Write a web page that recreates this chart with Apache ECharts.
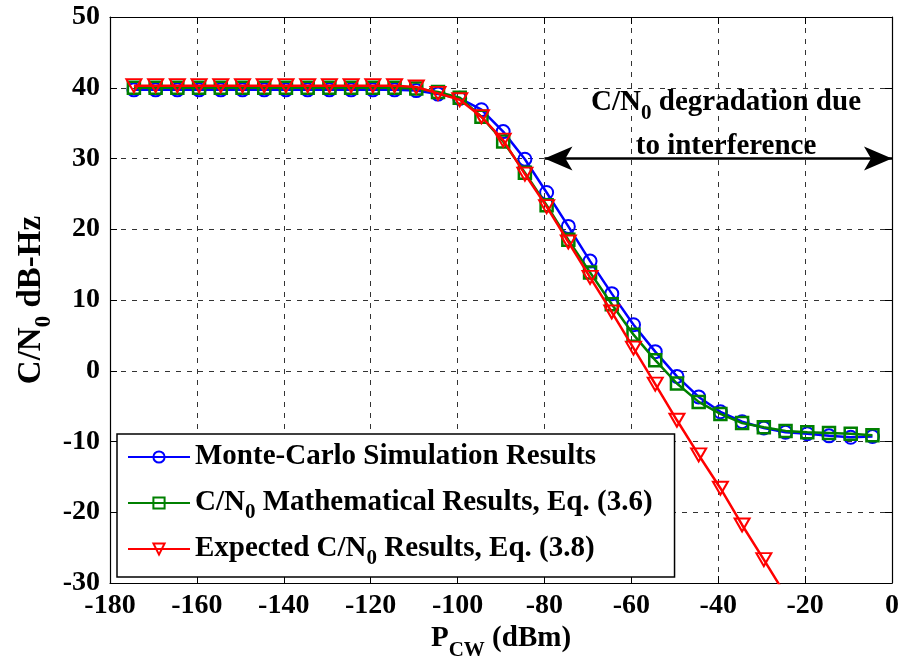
<!DOCTYPE html>
<html>
<head>
<meta charset="utf-8">
<script src="https://cdn.jsdelivr.net/npm/echarts@6/dist/echarts.min.js"></script>
<style>
  html, body { margin: 0; padding: 0; background: #fff; }
  #chart { width: 900px; height: 664px; }
</style>
</head>
<body>
<div id="chart"></div>
<script>
// ---- data ----
var pcw = [-174.5, -169.5, -164.5, -159.5, -154.5, -149.5, -144.5, -139.5, -134.5, -129.5,
           -124.5, -119.5, -114.5, -109.5, -104.5, -99.5, -94.5, -89.5, -84.5, -79.5,
           -74.5, -69.5, -64.5, -59.5, -54.5, -49.5, -44.5, -39.5, -34.5, -29.5,
           -24.5, -19.5, -14.5, -9.5, -4.5];
var monteCarlo = [39.7, 39.7, 39.7, 39.7, 39.7, 39.7, 39.7, 39.7, 39.7, 39.7,
                  39.7, 39.7, 39.7, 39.6, 39.1, 38.5, 36.9, 33.8, 29.9, 25.2,
                  20.4, 15.5, 10.9, 6.5, 2.7, -0.8, -3.7, -5.8, -7.2, -8.1,
                  -8.7, -8.9, -9.2, -9.4, -9.3];
var mathematical = [40.0, 40.0, 40.0, 40.0, 40.0, 40.0, 40.0, 40.0, 40.0, 40.0,
                    40.0, 40.0, 40.0, 39.9, 39.4, 38.6, 35.9, 32.4, 28.0, 23.4,
                    18.5, 13.9, 9.4, 5.1, 1.5, -1.8, -4.4, -6.1, -7.4, -8.0,
                    -8.5, -8.7, -8.8, -8.9, -9.1];
var expected = [40.3, 40.3, 40.3, 40.3, 40.3, 40.3, 40.3, 40.3, 40.3, 40.3,
                40.3, 40.3, 40.3, 40.1, 39.2, 38.3, 35.9, 32.6, 27.8, 23.2,
                18.2, 13.2, 8.3, 3.2, -1.9, -7.0, -11.9, -16.6, -21.8, -26.7,
                -31.7];
var seriesNames = ['Monte-Carlo Simulation Results',
                   'C/N0 Mathematical Results, Eq. (3.6)',
                   'Expected C/N0 Results, Eq. (3.8)'];
var xTicks = [-180, -160, -140, -120, -100, -80, -60, -40, -20, 0];
var yTicks = [-30, -20, -10, 0, 10, 20, 30, 40, 50];
var arrowStart = [-80, 30];
var arrowEnd = [0, 30];
var noteAnchor = [-38.2, 34.8];
var noteLines = ['C/N{sub|0} degradation due', 'to interference'];

function pairs(xs, ys) {
  var out = [];
  for (var i = 0; i < ys.length; i++) out.push([xs[i], ys[i]]);
  return out;
}

var FONT = '"Liberation Serif", "Times New Roman", serif';

var chart = echarts.init(document.getElementById('chart'), null, { renderer: 'canvas' });

var axisCommon = {
  type: 'value',
  axisLine: { show: true, onZero: false, lineStyle: { color: '#000', width: 1.2 } },
  axisTick: { show: true, inside: true, length: 7, lineStyle: { color: '#000', width: 1 } }
};

var option = {
  animation: false,
  backgroundColor: '#fff',
  grid: { left: 110, right: 8, top: 17, bottom: 81, containLabel: false, outerBoundsMode: 'none' },
  xAxis: [
    Object.assign({}, axisCommon, {
      position: 'bottom',
      min: xTicks[0], max: xTicks[xTicks.length - 1], interval: 20,
      axisLabel: { color: '#000', fontFamily: FONT, fontWeight: 'bold', fontSize: 28, margin: 9 },
      splitLine: { show: true, lineStyle: { color: '#333', type: [5, 6], width: 1 } },
      name: 'P{sub|CW} (dBm)',
      nameLocation: 'middle',
      nameMoveOverlap: false,
      nameGap: 34,
      nameTextStyle: {
        color: '#000', fontFamily: FONT, fontWeight: 'bold', fontSize: 29, lineHeight: 44,
        rich: {
          sub: { fontFamily: FONT, fontWeight: 'bold', fontSize: 21, color: '#000',
                 verticalAlign: 'bottom', lineHeight: 44 }
        }
      }
    }),
    Object.assign({}, axisCommon, {
      position: 'top',
      min: xTicks[0], max: xTicks[xTicks.length - 1], interval: 20,
      axisLabel: { show: false },
      splitLine: { show: false }
    })
  ],
  yAxis: [
    Object.assign({}, axisCommon, {
      position: 'left',
      min: yTicks[0], max: yTicks[yTicks.length - 1], interval: 10,
      axisLabel: { color: '#000', fontFamily: FONT, fontWeight: 'bold', fontSize: 28, margin: 10 },
      splitLine: { show: true, lineStyle: { color: '#333', type: [5, 6], width: 1 } },
      name: 'C/N{sub|0} dB-Hz',
      nameLocation: 'middle',
      nameMoveOverlap: false,
      nameGap: 54,
      nameTextStyle: {
        color: '#000', fontFamily: FONT, fontWeight: 'bold', fontSize: 33, lineHeight: 50,
        rich: {
          sub: { fontFamily: FONT, fontWeight: 'bold', fontSize: 23, color: '#000',
                 verticalAlign: 'bottom', lineHeight: 50 }
        }
      }
    }),
    Object.assign({}, axisCommon, {
      position: 'right',
      min: yTicks[0], max: yTicks[yTicks.length - 1], interval: 10,
      axisLabel: { show: false },
      splitLine: { show: false }
    })
  ],
  legend: {
    orient: 'vertical',
    left: 117, top: 434,
    backgroundColor: '#fff',
    borderColor: '#000',
    borderWidth: 1.5,
    borderRadius: 0,
    padding: [3, 22, 8, 10],
    itemGap: 6,
    itemWidth: 62,
    itemHeight: 14,
    data: seriesNames,
    formatter: function (name) { return name.replace('N0', 'N{sub|0}'); },
    textStyle: {
      color: '#000', fontFamily: FONT, fontWeight: 'bold', fontSize: 29, lineHeight: 40,
      rich: {
        sub: { fontFamily: FONT, fontWeight: 'bold', fontSize: 21, color: '#000',
               verticalAlign: 'bottom', lineHeight: 40 }
      }
    }
  },
  series: [
    {
      name: seriesNames[0],
      type: 'line',
      xAxisIndex: 0, yAxisIndex: 0,
      data: pairs(pcw, monteCarlo),
      symbol: 'circle',
      symbolSize: 13,
      lineStyle: { color: '#0000ff', width: 2.5 },
      itemStyle: { color: 'rgba(0,0,0,0)', borderColor: '#0000ff', borderWidth: 2 },
      z: 3
    },
    {
      name: seriesNames[1],
      type: 'line',
      xAxisIndex: 0, yAxisIndex: 0,
      data: pairs(pcw, mathematical),
      symbol: 'rect',
      symbolSize: 12,
      lineStyle: { color: '#008000', width: 2.5 },
      itemStyle: { color: 'rgba(0,0,0,0)', borderColor: '#008000', borderWidth: 2.5 },
      z: 4
    },
    {
      name: seriesNames[2],
      type: 'line',
      xAxisIndex: 0, yAxisIndex: 0,
      data: pairs(pcw, expected),
      symbol: 'triangle',
      symbolRotate: 180,
      symbolSize: [15, 13],
      clip: true,
      lineStyle: { color: '#ff0000', width: 2.5 },
      itemStyle: { color: 'rgba(0,0,0,0)', borderColor: '#ff0000', borderWidth: 2 },
      z: 5,
      markLine: {
        silent: true,
        symbol: ['arrow', 'arrow'],
        symbolSize: [18, 28],
        label: { show: false },
        lineStyle: { color: '#000', width: 2.5, type: 'solid' },
        data: [[{ coord: arrowStart }, { coord: arrowEnd }]]
      },
      markPoint: {
        silent: true,
        symbol: 'circle',
        symbolSize: 0,
        data: [{ coord: noteAnchor }],
        label: {
          show: true,
          position: 'inside',
          formatter: noteLines.join('\n'),
          color: '#000', fontFamily: FONT, fontWeight: 'bold', fontSize: 29, lineHeight: 44,
          rich: {
            sub: { fontFamily: FONT, fontWeight: 'bold', fontSize: 21, color: '#000',
                   verticalAlign: 'bottom', lineHeight: 44 }
          }
        }
      }
    }
  ]
};

chart.setOption(option);
</script>
</body>
</html>
